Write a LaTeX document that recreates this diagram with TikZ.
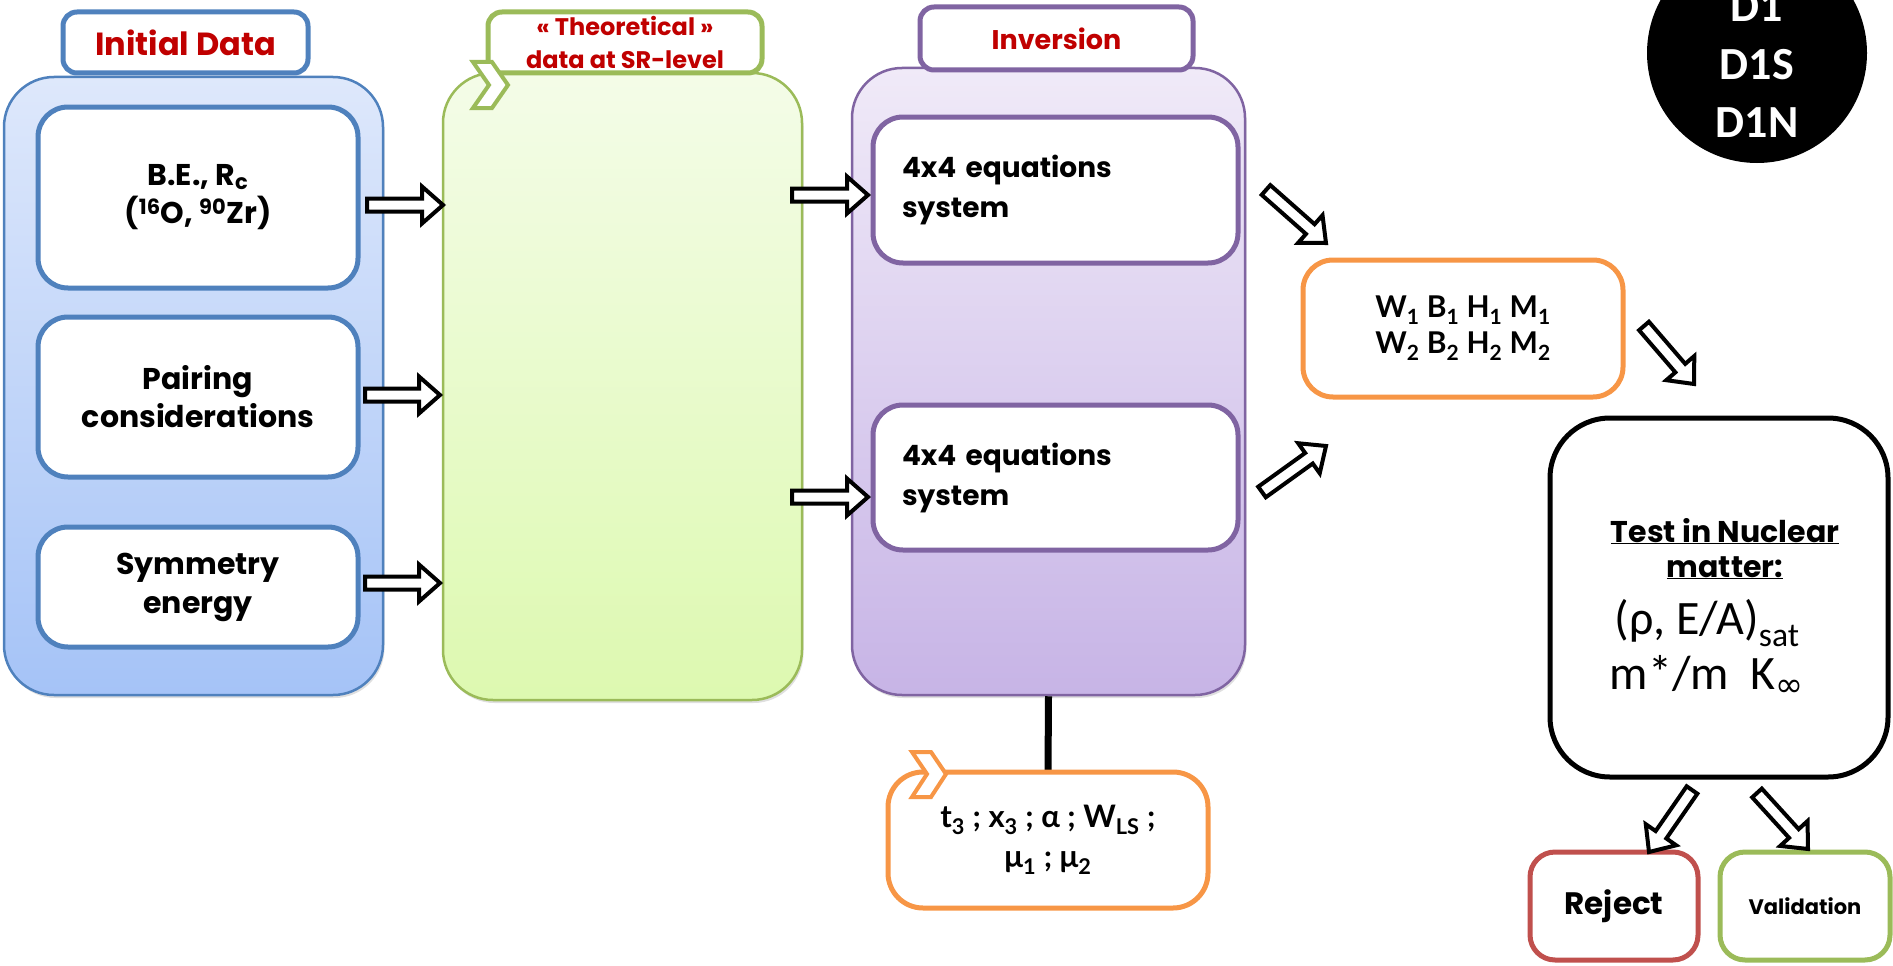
\documentclass[tikz,border=0pt]{standalone}
\usepackage{fontspec}
\usetikzlibrary{calc,shadows}
\newfontfamily\comic{Poppins}
\newfontfamily\gill{Lato}
\newfontfamily\calib{Carlito}
\newfontfamily\dejavu{DejaVu Sans}
\newcommand\fs[2]{\fontsize{#1}{#2}\selectfont}
\definecolor{blueline}{RGB}{79,129,189}
\definecolor{bluetop}{RGB}{222,232,251}
\definecolor{bluebot}{RGB}{165,195,247}
\definecolor{greenline}{RGB}{155,187,89}
\definecolor{greentop}{RGB}{244,252,232}
\definecolor{greenbot}{RGB}{221,249,176}
\definecolor{purpleline}{RGB}{128,100,162}
\definecolor{purpletop}{RGB}{240,234,248}
\definecolor{purplebot}{RGB}{199,180,230}
\definecolor{orangeline}{RGB}{247,150,70}
\definecolor{rejectred}{RGB}{192,80,77}
\definecolor{labelred}{RGB}{192,0,0}
% hollow block arrow between two named coordinates
\newcommand\hollowarrow[2]{%
  \coordinate (ha-neck) at ($(#2)!21pt!(#1)$);
  \draw[blockarr] ($(#1)!6.5pt!90:(#2)$) -- ($(ha-neck)!6.5pt!90:(#2)$)
    -- ($(ha-neck)!18.5pt!90:(#2)$) -- (#2) -- ($(ha-neck)!18.5pt!-90:(#2)$)
    -- ($(ha-neck)!6.5pt!-90:(#2)$) -- ($(#1)!6.5pt!-90:(#2)$) -- cycle;}
\begin{document}
\begin{tikzpicture}[x=1pt,y=-1pt,
  panel/.style={draw, line width=2.5pt, rounded corners=50pt,
    drop shadow={opacity=0.25,shadow xshift=1.5pt,shadow yshift=-3pt}},
  tab/.style={draw, fill=white, line width=5pt, rounded corners=14pt,
    text=labelred, align=center, inner sep=0pt},
  card/.style={draw, fill=white, line width=5pt, rounded corners=30pt,
    align=center, inner sep=0pt},
  chevron/.style={fill=white, line width=4pt, line join=miter},
  blockarr/.style={draw=black, fill=white, line width=4pt, line join=miter},
]
\useasboundingbox (0,0) rectangle (1893,966);

% ---- Initial data column ----
\node[panel, draw=blueline, top color=bluetop, bottom color=bluebot,
  minimum width=379pt, minimum height=618pt] (initpanel) at (193.5,386) {};
\node[tab, draw=blueline, minimum width=245pt, minimum height=61pt,
  font=\comic\bfseries\fs{32}{38}] (inittab) at (185.5,42.5) {Initial Data};
\node[card, draw=blueline, minimum width=320pt, minimum height=181pt,
  font=\comic\bfseries\fs{30}{38}] (be) at (198,197.5)
  {B.E., R\textsubscript{c}\\(\textsuperscript{16}O, \textsuperscript{90}Zr)};
\node[card, draw=blueline, minimum width=320pt, minimum height=160pt,
  font=\comic\bfseries\fs{30}{38}] (pairing) at (198,397)
  {Pairing\\considerations};
\node[card, draw=blueline, minimum width=320pt, minimum height=120pt,
  font=\comic\bfseries\fs{30}{39}] (symmetry) at (198,587)
  {Symmetry\\energy};

% ---- Theoretical data column ----
\node[panel, draw=greenline, top color=greentop, bottom color=greenbot,
  minimum width=359pt, minimum height=627pt] (theopanel) at (622.5,386.5) {};
\node[tab, draw=greenline, minimum width=274pt, minimum height=61pt,
  font=\comic\bfseries\fs{24}{33}] (theotab) at (625,42.5)
  {« Theoretical »\\data at SR-level};
\draw[chevron, draw=greenline] (473,62) -- (492,62) -- (508,85) -- (492,108)
  -- (473,108) -- (489,85) -- cycle;

% ---- Inversion column ----
\node[panel, draw=purpleline, top color=purpletop, bottom color=purplebot,
  minimum width=393pt, minimum height=627pt] (invpanel) at (1048.5,381.5) {};
\node[tab, draw=purpleline, minimum width=273pt, minimum height=63pt,
  font=\comic\bfseries\fs{27}{33}] (invtab) at (1056.5,38.5) {Inversion};
\node[card, draw=purpleline, minimum width=365pt, minimum height=146pt,
  text width=307pt, align=left, font=\comic\bfseries\fs{28}{40}] (sysa) at (1055.5,190)
  {4x4 equations\\system};
\node[card, draw=purpleline, minimum width=365pt, minimum height=145pt,
  text width=307pt, align=left, font=\comic\bfseries\fs{28}{40}] (sysb) at (1055.5,477.5)
  {4x4 equations\\system};

% ---- extra parameters ----
\draw[line width=7pt] (invpanel.south) -- (1048,772);
\node[card, draw=orangeline, minimum width=320pt, minimum height=136pt,
  rounded corners=35pt, font=\gill\bfseries\fs{31}{40}] (params) at (1048,840)
  {t\textsubscript{3} ; x\textsubscript{3} ; α ; W\textsubscript{LS} ;\\μ\textsubscript{1} ; μ\textsubscript{2}};
\draw[chevron, draw=orangeline] (912,752) -- (931,752) -- (946,774) -- (931,797)
  -- (912,797) -- (927,774) -- cycle;

% ---- resulting parameters ----
\node[card, draw=orangeline, minimum width=320pt, minimum height=137pt,
  font=\gill\bfseries\fs{30}{36}] (wbhm) at (1463,328.5)
  {W\textsubscript{1} B\textsubscript{1} H\textsubscript{1} M\textsubscript{1}\\W\textsubscript{2} B\textsubscript{2} H\textsubscript{2} M\textsubscript{2}};

% ---- nuclear matter test ----
\node[card, draw=black, minimum width=338pt, minimum height=359pt,
  rounded corners=60pt] (test) at (1719,597.5) {};
\node[anchor=base, font=\comic\bfseries\fs{30}{34}] (testa) at (1725,542) {\underline{Test in Nuclear}};
\node[anchor=base, font=\comic\bfseries\fs{30}{34}] (testb) at (1725,577) {\underline{matter:}};
\node[anchor=base, font=\calib\fs{48}{56}] (testc) at (1707,634) {(ρ, E/A)\textsubscript{sat}};
\node[anchor=base, font=\calib\fs{48}{56}] (testd) at (1707,689) {m*/m\ \ K\textsubscript{{\dejavu ∞}}};

\node[card, draw=rejectred, minimum width=168pt, minimum height=108pt,
  rounded corners=25pt, font=\comic\bfseries\fs{31}{36}] (reject) at (1614,906) {Reject};
\node[card, draw=greenline, minimum width=170pt, minimum height=108pt,
  rounded corners=25pt, font=\comic\bfseries\fs{21}{26}] (valid) at (1805,906) {Validation};

% ---- D1 family badge ----
\node[circle, fill=black, minimum size=220pt, inner sep=0pt] (badge) at (1757,53) {};
\node[anchor=base, text=white, font=\calib\bfseries\fs{46}{57}] (dA) at (1757,22) {D1};
\node[anchor=base, text=white, font=\calib\bfseries\fs{46}{57}] (dB) at (1757,80) {D1S};
\node[anchor=base, text=white, font=\calib\bfseries\fs{46}{57}] (dC) at (1757,137) {D1N};

% ---- flow arrows ----
\coordinate (a1s) at (367,205);  \coordinate (a1e) at (443,205);
\coordinate (a2s) at (365,395);  \coordinate (a2e) at (440,395);
\coordinate (a3s) at (365,583);  \coordinate (a3e) at (440,583);
\coordinate (a4s) at (792,195);  \coordinate (a4e) at (868,195);
\coordinate (a5s) at (792,497);  \coordinate (a5e) at (868,497);
\coordinate (a6s) at (1266,190); \coordinate (a6e) at (1326,243);
\coordinate (a7s) at (1262,492); \coordinate (a7e) at (1326,446);
\coordinate (a8s) at (1644,326); \coordinate (a8e) at (1694,384);
\coordinate (a9s) at (1692,790); \coordinate (a9e) at (1649,852);
\coordinate (a10s) at (1757,793); \coordinate (a10e) at (1808,849);
\hollowarrow{a1s}{a1e}
\hollowarrow{a2s}{a2e}
\hollowarrow{a3s}{a3e}
\hollowarrow{a4s}{a4e}
\hollowarrow{a5s}{a5e}
\hollowarrow{a6s}{a6e}
\hollowarrow{a7s}{a7e}
\hollowarrow{a8s}{a8e}
\hollowarrow{a9s}{a9e}
\hollowarrow{a10s}{a10e}
\end{tikzpicture}
\end{document}
